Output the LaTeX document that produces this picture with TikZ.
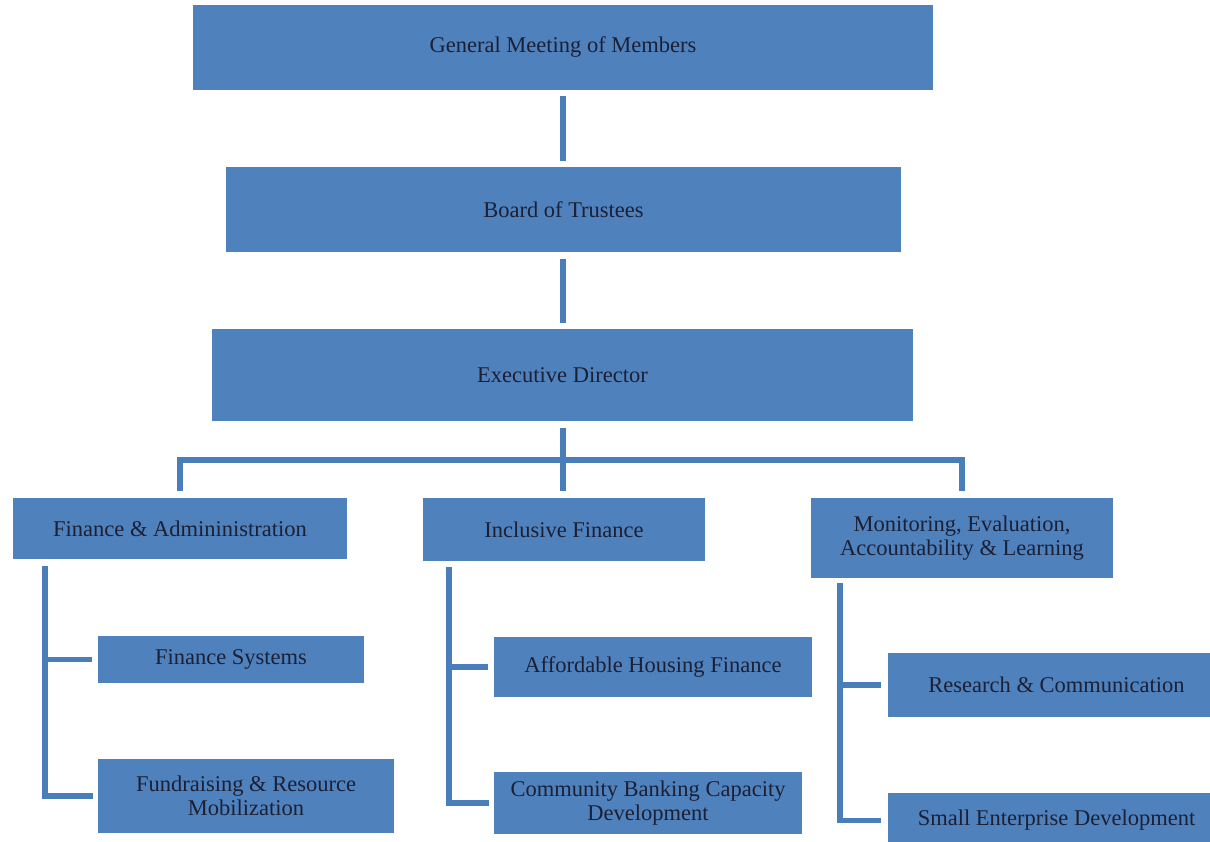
\documentclass[tikz,border=0pt]{standalone}
\usepackage{fontspec}
\setmainfont{Liberation Serif}
\definecolor{boxblue}{HTML}{4F81BD}
\definecolor{lineblue}{HTML}{4A7EBB}
\definecolor{txt}{HTML}{1C2035}
\begin{document}
\begin{tikzpicture}[x=1pt,y=-1pt,
  box/.style={fill=boxblue,draw=none,inner sep=0pt,align=center,text=txt,
    font=\fontsize{22.5}{24}\selectfont},
  conn/.style={draw=lineblue,line width=5.5pt,line join=miter}]
\useasboundingbox (0,0) rectangle (1210,842);
\node[box,minimum width=740pt,minimum height=85pt] (gm) at (563,47.5) {General Meeting of Members};
\node[box,minimum width=675pt,minimum height=85pt] (bot) at (563.5,209.5) {Board of Trustees};
\node[box,minimum width=701pt,minimum height=92pt] (ed) at (562.5,375) {Executive Director};
\node[box,minimum width=334pt,minimum height=61pt] (fa) at (180,528.5) {Finance \& Admininistration};
\node[box,minimum width=282pt,minimum height=63pt] (ifin) at (564,529.5) {Inclusive Finance};
\node[box,minimum width=302pt,minimum height=80pt] (meal) at (962,538) {Monitoring, Evaluation,\\Accountability \& Learning};
\node[box,minimum width=266pt,minimum height=47pt] (fs) at (231,659.5) {Finance Systems};
\node[box,minimum width=296pt,minimum height=74pt] (fr) at (246,796) {Fundraising \& Resource\\Mobilization};
\node[box,minimum width=318pt,minimum height=60pt] (ahf) at (653,667) {Affordable Housing Finance};
\node[box,minimum width=308pt,minimum height=62pt] (cbcd) at (648,803) {Community Banking Capacity\\Development};
\node[box,minimum width=337pt,minimum height=64pt] (rc) at (1056.5,685) {Research \& Communication};
\node[box,minimum width=337pt,minimum height=55pt] (sed) at (1056.5,820.5) {Small Enterprise Development};
% top chain (vertical spine at x=563)
\coordinate (spine) at (563,0);
\draw[conn,shorten <=6pt,shorten >=6pt] (spine |- gm.south) -- (spine |- bot.north);
\draw[conn,shorten <=7pt,shorten >=6pt] (spine |- bot.south) -- (spine |- ed.north);
\draw[conn,shorten <=7pt,shorten >=7pt] (spine |- ed.south) -- (spine |- ifin.north);
\coordinate (bus) at (0,460);
\draw[conn,shorten <=7pt,shorten >=7pt] (fa.north) -- (fa.north |- bus) -- (meal.north |- bus) -- (meal.north);
% Finance & Administration children
\coordinate (faL) at (45,559);
\draw[conn,shorten <=7pt,shorten >=5pt] (faL) |- (fr.west);
\draw[conn,shorten >=6pt] (faL |- fs.west) -- (fs.west);
% Inclusive Finance children
\coordinate (ifL) at (449,561);
\draw[conn,shorten <=6pt,shorten >=5pt] (ifL) |- (cbcd.west);
\draw[conn,shorten >=6pt] (ifL |- ahf.west) -- (ahf.west);
% MEAL children
\coordinate (meL) at (840,578);
\draw[conn,shorten <=5pt,shorten >=7pt] (meL) |- (sed.west);
\draw[conn,shorten >=7pt] (meL |- rc.west) -- (rc.west);
\end{tikzpicture}
\end{document}
